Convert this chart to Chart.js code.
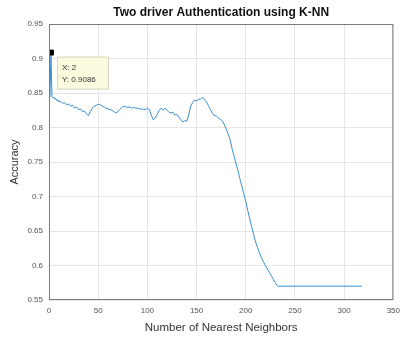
<!DOCTYPE html>
<html>
<head>
<meta charset="utf-8">
<script src="https://cdn.jsdelivr.net/npm/chart.js@4"></script>
<style>
  body { margin: 0; background: #fff; }
  #c { display: block; }
</style>
</head>
<body>
<canvas id="c" width="406" height="341"></canvas>
<script>
// number of neighbours k and the accuracy
const kValues = [
  1, 2, 3, 4, 5, 6, 7, 8, 9, 10, 12, 14, 16, 18, 20, 22, 24, 26, 28, 30,
  32, 34, 36, 38, 40, 42, 44, 46, 48, 50, 52, 54, 56, 58, 60, 62, 64, 66, 68, 70,
  72, 74, 76, 78, 80, 82, 84, 86, 88, 90, 92, 94, 96, 98, 100, 102, 104, 106, 108, 110,
  112, 114, 116, 118, 120, 122, 124, 126, 128, 130, 132, 134, 136, 138, 140, 142, 144, 146, 148, 150,
  152, 154, 156, 158, 160, 162, 164, 166, 168, 170, 172, 174, 176, 178, 180, 182, 184, 186, 188, 190,
  192, 194, 196, 198, 200, 202, 204, 206, 208, 210, 212, 214, 216, 218, 220, 222, 224, 226, 228, 230,
  232, 233, 318
];
const accuracy = [
  0.844, 0.9086, 0.845, 0.843, 0.844, 0.841, 0.842, 0.839, 0.840, 0.837, 0.838, 0.835, 0.836, 0.833, 0.834, 0.831, 0.832, 0.828, 0.830, 0.826,
  0.827, 0.823, 0.824, 0.820, 0.817, 0.823, 0.828, 0.831, 0.832, 0.834, 0.833, 0.831, 0.830, 0.828, 0.827, 0.826, 0.825, 0.823, 0.821, 0.823,
  0.826, 0.829, 0.831, 0.830, 0.829, 0.830, 0.828, 0.829, 0.828, 0.828, 0.827, 0.827, 0.826, 0.826, 0.828, 0.826, 0.818, 0.811, 0.814, 0.819,
  0.825, 0.828, 0.825, 0.828, 0.825, 0.822, 0.821, 0.822, 0.818, 0.819, 0.815, 0.811, 0.808, 0.810, 0.809, 0.818, 0.831, 0.836, 0.840, 0.838,
  0.841, 0.841, 0.844, 0.841, 0.837, 0.832, 0.826, 0.821, 0.817, 0.817, 0.814, 0.812, 0.810, 0.805, 0.798, 0.791, 0.783, 0.770, 0.759, 0.748,
  0.738, 0.726, 0.715, 0.704, 0.693, 0.680, 0.668, 0.656, 0.645, 0.634, 0.626, 0.618, 0.611, 0.605, 0.600, 0.595, 0.590, 0.585, 0.580, 0.575,
  0.571, 0.570, 0.570
];
const xTicks = [0, 50, 100, 150, 200, 250, 300, 350];
const yTicks = [0.55, 0.6, 0.65, 0.7, 0.75, 0.8, 0.85, 0.9, 0.95];
const tipX = 2;
const tipY = 0.9086;

const fontFamily = '"Liberation Sans", Arial, Helvetica, sans-serif';

const boxAndTitle = {
  id: 'boxAndTitle',
  afterDraw(chart) {
    const { ctx, chartArea: a, scales } = chart;
    ctx.save();
    ctx.strokeStyle = '#7a7a7a';
    ctx.lineWidth = 1;
    ctx.strokeRect(a.left + 0.5, a.top + 0.5, a.right - a.left - 1, a.bottom - a.top - 1);

    ctx.fillStyle = '#111';
    ctx.font = 'bold 12px ' + fontFamily;
    ctx.textAlign = 'center';
    ctx.textBaseline = 'middle';
    ctx.fillText('Two driver Authentication using K-NN', (a.left + a.right) / 2, 13);

    // data tip
    const px = scales.x.getPixelForValue(tipX);
    const py = scales.y.getPixelForValue(tipY);
    const bx = px + 6, by = py + 4;
    ctx.fillStyle = '#fbfbe0';
    ctx.fillRect(bx, by, 52, 33);
    ctx.strokeStyle = '#d6d6c0';
    ctx.strokeRect(bx + 0.5, by + 0.5, 51, 32);
    ctx.fillStyle = '#333';
    ctx.font = '8px ' + fontFamily;
    ctx.textAlign = 'left';
    ctx.fillText('X: ' + tipX, bx + 5, by + 11);
    ctx.fillText('Y: ' + tipY.toFixed(4), bx + 5, by + 23);
    ctx.restore();
  }
};

new Chart(document.getElementById('c'), {
  type: 'line',
  data: {
    datasets: [{
      data: kValues.map((k, i) => ({ x: k, y: accuracy[i] })),
      borderColor: '#3b8ed0',
      borderWidth: 1,
      tension: 0,
      pointRadius: ctx => (ctx.raw && ctx.raw.x === tipX ? 3.5 : 0),
      pointStyle: 'rect',
      pointBackgroundColor: '#000',
      pointBorderColor: '#000',
      pointBorderWidth: 1
    }]
  },
  options: {
    responsive: false,
    animation: false,
    events: [],
    layout: { padding: { left: 0, right: 6, top: 24, bottom: 0 } },
    plugins: {
      legend: { display: false },
      tooltip: { enabled: false }
    },
    scales: {
      x: {
        type: 'linear',
        min: 0,
        max: 350,
        afterBuildTicks: s => { s.ticks = xTicks.map(v => ({ value: v })); },
        afterFit: s => { s.height = 41; },
        ticks: { font: { size: 8, family: fontFamily }, color: '#555', padding: 6, maxRotation: 0 },
        grid: { color: '#e6e6e6', drawTicks: false },
        border: { display: false },
        title: { display: true, text: 'Number of Nearest Neighbors', color: '#333',
                 font: { size: 11.5, family: fontFamily }, padding: { top: 0, bottom: 6 } }
      },
      y: {
        min: 0.55,
        max: 0.95,
        afterBuildTicks: s => { s.ticks = yTicks.map(v => ({ value: v })); },
        afterFit: s => { s.width = 49; },
        ticks: { font: { size: 8, family: fontFamily }, color: '#555', padding: 6,
                 callback: v => String(Math.round(v * 100) / 100) },
        grid: { color: '#e6e6e6', drawTicks: false },
        border: { display: false },
        title: { display: true, text: 'Accuracy', color: '#333',
                 font: { size: 11, family: fontFamily }, padding: { top: 8, bottom: 0 } }
      }
    }
  },
  plugins: [boxAndTitle]
});
</script>
</body>
</html>
